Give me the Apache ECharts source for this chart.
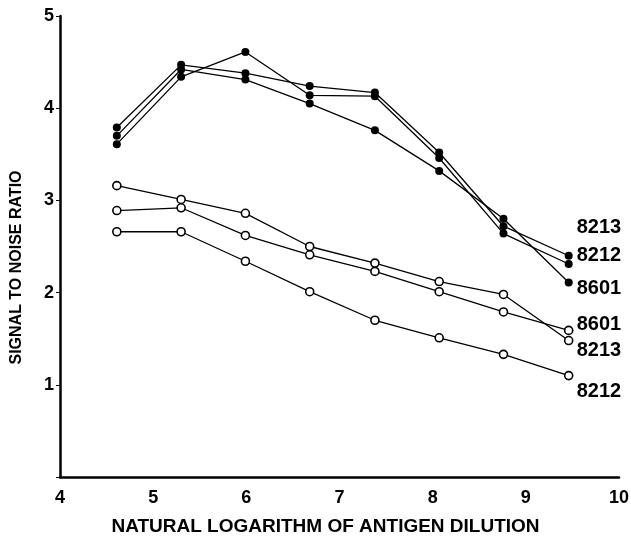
<!DOCTYPE html>
<html>
<head>
<meta charset="utf-8">
<script src="https://cdn.jsdelivr.net/npm/echarts@6/dist/echarts.min.js"></script>
<style>
  html, body { margin: 0; padding: 0; background: #fff; }
  #chart { width: 631px; height: 537px; }
</style>
</head>
<body>
<div id="chart"></div>
<script>
// ln of antigen dilution (two-fold steps)
const dilution = [4.61, 5.30, 5.99, 6.68, 7.38, 8.07, 8.76, 9.46]

// filled circles
const solid8213 = [3.79, 4.47, 4.38, 4.24, 4.17, 3.52, 2.72, 2.40]
const solid8212 = [3.61, 4.34, 4.61, 4.14, 4.13, 3.46, 2.64, 2.31]
const solid8601 = [3.70, 4.42, 4.31, 4.05, 3.76, 3.32, 2.80, 2.11]

// open circles
const open8213 = [3.16, 3.01, 2.86, 2.50, 2.32, 2.12, 1.98, 1.48]
const open8601 = [2.89, 2.92, 2.62, 2.41, 2.23, 2.01, 1.79, 1.59]
const open8212 = [2.66, 2.66, 2.34, 2.01, 1.70, 1.51, 1.33, 1.10]

const xTicks = [4, 5, 6, 7, 8, 9, 10]
const yTicks = [1, 2, 3, 4, 5]

const font = 'Liberation Sans'

function makeSeries (name, vals, filled, labelDy) {
  return {
    name: name,
    type: 'line',
    data: dilution.map((x, i) => [x, vals[i]]),
    symbol: 'circle',
    symbolSize: 8,
    itemStyle: {
      color: filled ? '#000' : '#fff',
      borderColor: '#000',
      borderWidth: filled ? 0 : 1.6
    },
    lineStyle: { color: '#000', width: 1.3 },
    endLabel: {
      show: true,
      formatter: name,
      color: '#000',
      fontFamily: font,
      fontWeight: 'bold',
      fontSize: 20,
      offset: [4, labelDy],
      distance: 4
    },
    z: filled ? 3 : 2
  }
}

const chart = echarts.init(document.getElementById('chart'))
chart.setOption({
  animation: false,
  grid: { left: 60, right: 12, top: 16, bottom: 60, outerBoundsMode: 'none' },
  xAxis: {
    type: 'value',
    min: 4,
    max: 10,
    interval: 1,
    name: 'NATURAL LOGARITHM OF ANTIGEN DILUTION',
    nameLocation: 'middle',
    nameGap: 40,
    nameTextStyle: { color: '#000', fontFamily: font, fontWeight: 'bold', fontSize: 19, padding: [0, 28, 0, 0] },
    axisLine: { show: true, lineStyle: { color: '#000', width: 2.5 } },
    axisTick: { show: false },
    splitLine: { show: false },
    axisLabel: {
      color: '#000',
      fontFamily: font,
      fontWeight: 'bold',
      fontSize: 18,
      margin: 12,
      formatter: v => xTicks.includes(v) ? String(v) : ''
    }
  },
  yAxis: {
    type: 'value',
    min: 0,
    max: 5,
    interval: 1,
    name: 'SIGNAL TO NOISE RATIO',
    nameLocation: 'middle',
    nameGap: 35,
    nameTextStyle: { color: '#000', fontFamily: font, fontWeight: 'bold', fontSize: 16, padding: [0, 42, 0, 0] },
    axisLine: { show: true, lineStyle: { color: '#000', width: 2.5 } },
    axisTick: { show: true, length: 4, lineStyle: { color: '#000', width: 1 } },
    splitLine: { show: false },
    axisLabel: {
      color: '#000',
      fontFamily: font,
      fontWeight: 'bold',
      fontSize: 18,
      margin: 6,
      formatter: v => yTicks.includes(v) ? String(v) : ''
    }
  },
  series: [
    makeSeries('8213', solid8213, true, -28),
    makeSeries('8212', solid8212, true, -9),
    makeSeries('8601', solid8601, true, 6),
    makeSeries('8601', open8601, false, -6),
    makeSeries('8213', open8213, false, 10),
    makeSeries('8212', open8212, false, 16)
  ]
})
</script>
</body>
</html>
